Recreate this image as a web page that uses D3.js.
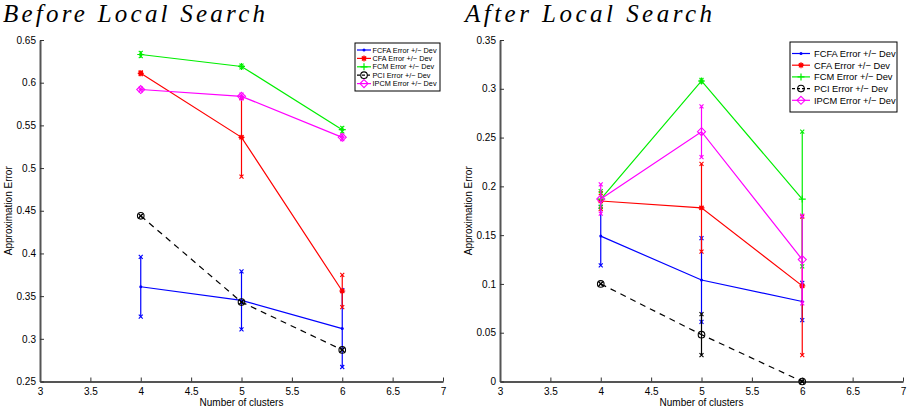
<!DOCTYPE html>
<html>
<head>
<meta charset="utf-8">
<script src="https://cdn.jsdelivr.net/npm/d3@7"></script>
<style>
  body { margin: 0; background: #fff; }
  svg { display: block; }
</style>
</head>
<body>
<div id="chart"></div>
<script>
// cluster counts on the x axis
var clusters = [4, 5, 6];

// Before local search: mean approximation error and deviation
var fcfaBefore = [0.361, 0.345, 0.312];
var fcfaBeforeDev = [0.035, 0.034, 0.045];
var cfaBefore = [0.611, 0.536, 0.356];
var cfaBeforeDev = [0.001, 0.046, 0.019];
var fcmBefore = [0.633, 0.619, 0.545];
var fcmBeforeDev = [0.002, 0.001, 0.002];
var pciBefore = [0.444, 0.343, 0.287];
var pciBeforeDev = [0, 0, 0];
var ipcmBefore = [0.592, 0.584, 0.536];
var ipcmBeforeDev = [0.001, 0.002, 0.002];

// After local search
var fcfaAfter = [0.149, 0.104, 0.082];
var fcfaAfterDev = [0.030, 0.043, 0.019];
var cfaAfter = [0.185, 0.178, 0.098];
var cfaAfterDev = [0.008, 0.045, 0.071];
var fcmAfter = [0.187, 0.308, 0.187];
var fcmAfterDev = [0.008, 0.001, 0.069];
var pciAfter = [0.100, 0.048, 0.000];
var pciAfterDev = [0, 0.021, 0];
var ipcmAfter = [0.187, 0.256, 0.125];
var ipcmAfterDev = [0.015, 0.026, 0.045];

var seriesNames = ["FCFA Error +/\u2212 Dev", "CFA Error +/\u2212 Dev", "FCM Error +/\u2212 Dev",
                   "PCI Error +/\u2212 Dev", "IPCM Error +/\u2212 Dev"];
var seriesColors = ["#0000ff", "#ff0000", "#00ee00", "#000000", "#ff00ff"];
var seriesMarkers = ["dot", "star", "plus", "circle", "diamond"];

var xTicks = [3, 3.5, 4, 4.5, 5, 5.5, 6, 6.5, 7];
var yTicksBefore = [0.25, 0.3, 0.35, 0.4, 0.45, 0.5, 0.55, 0.6, 0.65];
var yTicksAfter = [0, 0.05, 0.1, 0.15, 0.2, 0.25, 0.3, 0.35];

var panels = [
  { title: "Before Local Search", tx: 3, tw: 262, left: 40, right: 443, yDomain: [0.25, 0.65], yTicks: yTicksBefore,
    values: [fcfaBefore, cfaBefore, fcmBefore, pciBefore, ipcmBefore],
    devs: [fcfaBeforeDev, cfaBeforeDev, fcmBeforeDev, pciBeforeDev, ipcmBeforeDev],
    legend: { x: 355, y: 43, w: 85, h: 48, first: 50, row: 8.4, font: 7.3, line: 14, gap: 1.5 } },
  { title: "After Local Search", tx: 465, tw: 247, left: 500, right: 903, yDomain: [0, 0.35], yTicks: yTicksAfter,
    values: [fcfaAfter, cfaAfter, fcmAfter, pciAfter, ipcmAfter],
    devs: [fcfaAfterDev, cfaAfterDev, fcmAfterDev, pciAfterDev, ipcmAfterDev],
    legend: { x: 790, y: 42, w: 107, h: 70, first: 53.5, row: 11.7, font: 9.3, line: 18, gap: 4 } }
];

var width = 909, height = 411;
var plotTop = 40, plotBottom = 381.5;

var svg = d3.select("#chart").append("svg")
  .attr("width", width)
  .attr("height", height)
  .style("font-family", "'Liberation Sans', Arial, sans-serif");

function drawMarker(g, type, color, x, y) {
  if (type == "dot") {
    g.append("circle").attr("cx", x).attr("cy", y).attr("r", 1.5).attr("fill", color);
  } else if (type == "star") {
    var s = 3;
    g.append("path")
      .attr("d", "M" + (x - s) + "," + y + "H" + (x + s) + "M" + x + "," + (y - s) + "V" + (y + s) +
        "M" + (x - s * 0.7) + "," + (y - s * 0.7) + "L" + (x + s * 0.7) + "," + (y + s * 0.7) +
        "M" + (x - s * 0.7) + "," + (y + s * 0.7) + "L" + (x + s * 0.7) + "," + (y - s * 0.7))
      .attr("stroke", color).attr("stroke-width", 1.2).attr("fill", "none");
    g.append("rect").attr("x", x - 1.8).attr("y", y - 1.8).attr("width", 3.6).attr("height", 3.6).attr("fill", color);
  } else if (type == "plus") {
    var p = 3.5;
    g.append("path")
      .attr("d", "M" + (x - p) + "," + y + "H" + (x + p) + "M" + x + "," + (y - p) + "V" + (y + p))
      .attr("stroke", color).attr("stroke-width", 1.2);
  } else if (type == "circle") {
    g.append("circle").attr("cx", x).attr("cy", y).attr("r", 3.3)
      .attr("fill", "none").attr("stroke", color).attr("stroke-width", 1.1);
  } else if (type == "diamond") {
    var d = 4;
    g.append("path")
      .attr("d", "M" + x + "," + (y - d) + "L" + (x + d) + "," + y + "L" + x + "," + (y + d) + "L" + (x - d) + "," + y + "Z")
      .attr("fill", "none").attr("stroke", color).attr("stroke-width", 1.1);
  }
}

function drawCross(g, color, x, y) {
  var c = 2;
  g.append("path")
    .attr("d", "M" + (x - c) + "," + (y - c) + "L" + (x + c) + "," + (y + c) + "M" + (x - c) + "," + (y + c) + "L" + (x + c) + "," + (y - c))
    .attr("stroke", color).attr("stroke-width", 1.1);
}

panels.forEach(function (p) {
  var x = d3.scaleLinear().domain([3, 7]).range([p.left, p.right]);
  var y = d3.scaleLinear().domain(p.yDomain).range([plotBottom, plotTop]);
  var g = svg.append("g");

  // title (LaTeX-style italic, letters spread out)
  g.append("text")
    .attr("x", p.tx)
    .attr("y", 22)
    .attr("textLength", p.tw)
    .attr("lengthAdjust", "spacing")
    .style("font-family", "'Liberation Serif', 'DejaVu Serif', serif")
    .style("font-style", "italic")
    .style("font-size", "25px")
    .text(p.title);

  // axes
  var xAxis = g.append("g")
    .attr("transform", "translate(0," + plotBottom + ")")
    .call(d3.axisBottom(x).tickValues(xTicks).tickSizeInner(-4).tickSizeOuter(0).tickPadding(6)
      .tickFormat(d3.format("")));
  var yAxis = g.append("g")
    .attr("transform", "translate(" + p.left + ",0)")
    .call(d3.axisLeft(y).tickValues(p.yTicks).tickSizeInner(-4).tickSizeOuter(0).tickPadding(4)
      .tickFormat(function (d) { return d3.format("")(+d.toFixed(2)); }));
  [xAxis, yAxis].forEach(function (a) {
    a.select(".domain").attr("stroke", "#555").attr("stroke-width", 2);
    a.selectAll(".tick line").attr("stroke", "#333").attr("stroke-width", 1);
    a.selectAll(".tick text").style("font-size", "10px").attr("fill", "#000")
      .style("font-family", "'Liberation Sans', Arial, sans-serif");
  });

  // series lines, error bars and markers
  p.values.forEach(function (vals, si) {
    var color = seriesColors[si];
    var pts = clusters.map(function (c, i) { return [c, vals[i], p.devs[si][i]]; });
    var line = d3.line().x(function (d) { return x(d[0]); }).y(function (d) { return y(d[1]); });
    g.append("path")
      .attr("d", line(pts))
      .attr("fill", "none")
      .attr("stroke", color)
      .attr("stroke-width", 1.2)
      .attr("stroke-dasharray", si == 3 ? "6,5" : null);
    pts.forEach(function (d) {
      var y0 = y(d[1] - d[2]), y1 = y(d[1] + d[2]);
      g.append("line")
        .attr("x1", x(d[0])).attr("x2", x(d[0]))
        .attr("y1", y0).attr("y2", y1)
        .attr("stroke", color).attr("stroke-width", 1.2);
      drawCross(g, color, x(d[0]), y0);
      drawCross(g, color, x(d[0]), y1);
      drawMarker(g, seriesMarkers[si], color, x(d[0]), y(d[1]));
    });
  });

  // axis labels
  g.append("text")
    .attr("x", (p.left + p.right) / 2)
    .attr("y", 406)
    .attr("text-anchor", "middle")
    .style("font-size", "10px")
    .text("Number of clusters");
  g.append("text")
    .attr("transform", "translate(" + (p.left - 28) + "," + ((plotTop + plotBottom) / 2) + ") rotate(-90)")
    .attr("text-anchor", "middle")
    .style("font-size", "10px")
    .text("Approximation Error");

  // legend
  var L = p.legend;
  var lg = g.append("g");
  lg.append("rect")
    .attr("x", L.x).attr("y", L.y).attr("width", L.w).attr("height", L.h)
    .attr("fill", "#fff").attr("stroke", "#000").attr("stroke-width", 1);
  seriesNames.forEach(function (name, si) {
    var ly = L.first + si * L.row;
    var lx0 = L.x + 2, lx1 = lx0 + L.line;
    lg.append("line")
      .attr("x1", lx0).attr("x2", lx1).attr("y1", ly).attr("y2", ly)
      .attr("stroke", seriesColors[si]).attr("stroke-width", 1.2)
      .attr("stroke-dasharray", si == 3 ? "3,2" : null);
    drawMarker(lg, seriesMarkers[si], seriesColors[si], (lx0 + lx1) / 2, ly);
    lg.append("text")
      .attr("x", lx1 + L.gap)
      .attr("y", ly + L.font * 0.36)
      .style("font-size", L.font + "px")
      .text(name);
  });
});
</script>
</body>
</html>
